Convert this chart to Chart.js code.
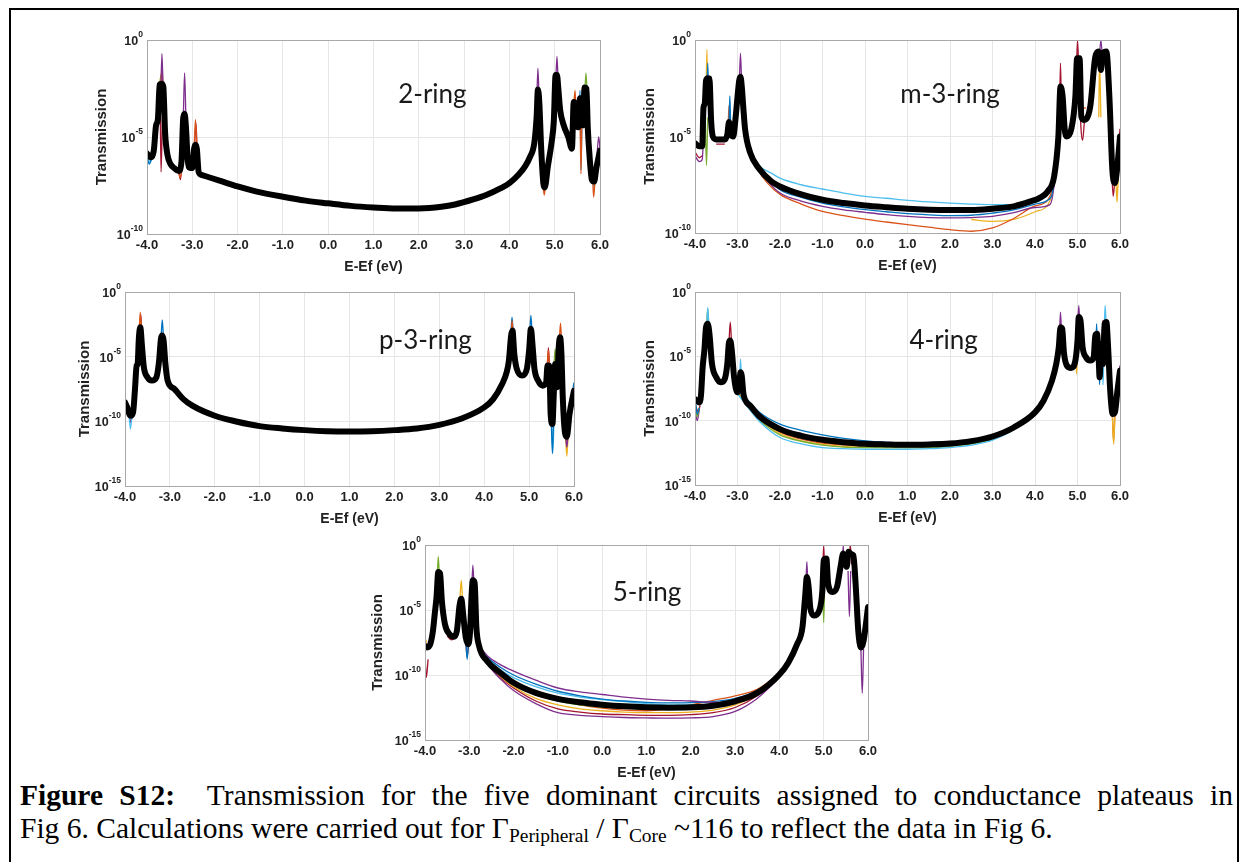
<!DOCTYPE html>
<html><head><meta charset="utf-8">
<script src="https://cdn.jsdelivr.net/npm/chart.js@4"></script>
<style>
body{margin:0;width:1248px;height:862px;background:#fff;position:relative;overflow:hidden}
canvas{position:absolute}
#frame{position:absolute;left:9px;top:8px;width:1226px;height:900px;border:2px solid #000}
.cap{position:absolute;left:20px;font-family:'Liberation Serif','Times New Roman',serif;font-size:29.5px;line-height:33px;color:#000;white-space:nowrap}
#l1{width:1213px;text-align:justify;text-align-last:justify;white-space:normal}
.cap sub{font-size:0.66em;vertical-align:-0.22em;line-height:0}
</style></head><body>
<div id="frame"></div>
<div class="cap" id="l1"><b>Figure S12:</b>&nbsp; Transmission for the five dominant circuits assigned to conductance plateaus in</div>
<div class="cap" id="l2">Fig 6. Calculations were carried out for Γ<sub>Peripheral</sub> / Γ<sub>Core</sub> ~116 to reflect the data in Fig 6.</div>
<script>
// ---------- tick labels ----------
const X_TICKS = [-4,-3,-2,-1,0,1,2,3,4,5,6];
const X_TICK_LABELS = ['-4.0','-3.0','-2.0','-1.0','0.0','1.0','2.0','3.0','4.0','5.0','6.0'];
const Y_TICKS_10 = [0,-5,-10];
const Y_TICKS_15 = [0,-5,-10,-15];
const PANEL_LABELS = ['2-ring','m-3-ring','p-3-ring','4-ring','5-ring'];

// ---------- 2-ring (values are log10 of transmission) ----------
const ring2X = [-4.0,-3.92,-3.85,-3.8,-3.76,-3.72,-3.68,-3.64,-3.6,-3.55,-3.48,-3.4,-3.3,-3.24,-3.2,-3.17,-3.14,-3.1,-3.05,-3.0,-2.96,-2.93,-2.9,-2.86,-2.8,-2.6,-2.4,-2.0,-1.6,-1.0,-0.5,0.0,0.5,1.0,1.5,2.0,2.5,2.8,3.2,3.5,3.8,4.0,4.2,4.35,4.45,4.55,4.6,4.63,4.66,4.7,4.75,4.78,4.85,4.93,4.98,5.02,5.05,5.08,5.12,5.2,5.3,5.38,5.42,5.45,5.48,5.52,5.56,5.59,5.62,5.66,5.7,5.73,5.77,5.82,5.87,5.92,6.0];
const ring2Black = [-5.85,-6.05,-5.7,-4.4,-4.1,-2.3,-2.25,-2.4,-4.8,-5.9,-6.4,-6.6,-6.75,-6.3,-4.0,-3.8,-4.5,-6.2,-6.6,-6.6,-5.6,-5.4,-5.6,-6.8,-6.95,-7.1,-7.25,-7.55,-7.8,-8.08,-8.28,-8.42,-8.55,-8.63,-8.68,-8.68,-8.6,-8.48,-8.22,-7.98,-7.65,-7.38,-6.95,-6.5,-6.05,-5.3,-4.0,-2.55,-3.2,-5.5,-7.4,-7.6,-6.5,-5.3,-4.2,-1.8,-1.8,-2.5,-3.6,-4.4,-5.0,-5.6,-3.2,-3.3,-4.4,-4.5,-3.0,-3.1,-4.4,-2.45,-2.5,-4.5,-6.0,-7.2,-7.3,-6.6,-5.7];
const ring2Purple = [[-3.7,-3.2],[-3.67,-0.7],[-3.64,-3.0],null,[-3.2,-4.2],[-3.17,-1.7],[-3.14,-4.2],null,[4.6,-3.5],[4.63,-1.45],[4.66,-3.5],null,[5.02,-2.5],[5.05,-0.85],[5.08,-2.5],null,[5.92,-6.5],[5.97,-5.0],[6.0,-5.6]];
const ring2Orange = [[-3.7,-3.0],[-3.67,-1.3],[-3.64,-3.0],null,[-3.3,-6.75],[-3.27,-7.1],[-3.22,-6.6],null,[-2.96,-5.6],[-2.93,-4.1],[-2.9,-5.6],null,[4.74,-7.4],[4.77,-8.0],[4.8,-7.4],null,[5.42,-3.5],[5.45,-2.6],[5.48,-4.4],null,[5.56,-4.0],[5.58,-6.9],[5.6,-4.0],null,[5.84,-7.2],[5.86,-8.1],[5.89,-7.2]];
const ring2Blue = [[-4.0,-6.0],[-3.95,-6.4],[-3.88,-6.0],null,[-3.76,-4.0],[-3.74,-3.0],[-3.72,-4.0],null,[5.53,-4.3],[5.56,-2.6],[5.58,-6.7],[5.6,-4.2],null,[5.76,-6.0],[5.78,-6.9],[5.8,-6.8]];
const ring2Yellow = [[-3.74,-3.5],[-3.71,-2.0],[-3.68,-3.0],null,[5.42,-4.0],[5.44,-2.7],[5.46,-4.0],null,[5.75,-5.5],[5.77,-6.5],[5.79,-6.8]];
const ring2Green = [[-3.73,-3.5],[-3.7,-1.8],[-3.67,-3.0],null,[5.66,-3.0],[5.69,-1.7],[5.72,-3.0]];
const ring2Cyan = [[-3.98,-6.0],[-3.94,-6.3],[-3.9,-6.0],null,[5.84,-7.2],[5.87,-7.6],[5.9,-7.1]];
const ring2Red = [[-3.71,-3.0],[-3.69,-6.8],[-3.66,-4.0],null,[-3.3,-6.8],[-3.26,-7.2],[-3.2,-5.0],null,[-2.95,-5.5],[-2.92,-4.3],[-2.89,-5.8]];

// ---------- m-3-ring ----------
const ring3mX = [-4.0,-3.9,-3.83,-3.8,-3.77,-3.74,-3.7,-3.66,-3.62,-3.58,-3.5,-3.3,-3.24,-3.2,-3.15,-3.1,-3.05,-3.0,-2.96,-2.93,-2.9,-2.86,-2.82,-2.7,-2.5,-2.2,-2.0,-1.5,-1.0,-0.5,0.0,0.5,1.0,1.5,2.0,2.5,3.0,3.5,3.9,4.1,4.3,4.45,4.55,4.6,4.65,4.7,4.75,4.85,4.95,4.99,5.05,5.09,5.15,5.3,5.42,5.5,5.55,5.6,5.68,5.75,5.82,5.88,5.93,6.0];
const ring3mBlack = [-5.35,-5.5,-5.5,-3.5,-3.3,-2.1,-1.98,-2.0,-4.2,-5.0,-5.15,-5.15,-4.9,-4.25,-4.9,-5.0,-4.15,-2.95,-2.1,-1.9,-2.4,-3.6,-4.65,-5.85,-6.64,-7.33,-7.59,-8.0,-8.28,-8.45,-8.57,-8.66,-8.74,-8.79,-8.81,-8.81,-8.74,-8.62,-8.36,-8.19,-7.84,-7.07,-5.0,-2.41,-2.93,-4.65,-5.0,-4.65,-2.93,-0.95,-0.95,-3.97,-4.14,-3.45,-0.86,-0.6,-1.55,-0.69,-0.6,-2.93,-6.72,-7.41,-6.72,-5.0];
const ring3mCyan = [[-2.7,-5.85],[-2.5,-6.5],[-2.2,-6.9],[-2.0,-7.16],[-1.5,-7.5],[-1.0,-7.72],[-0.5,-7.93],[0.0,-8.1],[0.5,-8.2],[1.0,-8.31],[1.5,-8.39],[2.0,-8.45],[2.5,-8.5],[3.0,-8.53],[3.5,-8.53],[3.9,-8.45],[4.2,-8.2],[4.4,-7.6],[4.5,-6.5]];
const ring3mBlue = [[-2.6,-6.3],[-2.3,-7.1],[-2.0,-7.76],[-1.5,-8.15],[-1.0,-8.45],[-0.5,-8.65],[0.0,-8.79],[0.5,-8.9],[1.0,-9.0],[1.5,-9.06],[2.0,-9.1],[2.5,-9.08],[3.0,-8.97],[3.5,-8.8],[4.0,-8.5],[4.3,-8.3],[4.4,-8.0],[4.5,-6.5],null,[-3.72,-3.0],[-3.7,-1.2],[-3.68,-3.0],null,[-3.2,-4.5],[-3.18,-2.9],[-3.16,-4.6]];
const ring3mPurple = [[-4.0,-6.0],[-3.9,-6.3],[-3.83,-6.2],[-3.8,-5.0],null,[-2.96,-2.5],[-2.93,-0.69],[-2.9,-2.5],null,[-2.6,-6.4],[-2.3,-7.3],[-2.0,-7.93],[-1.5,-8.35],[-1.0,-8.62],[-0.5,-8.8],[0.0,-8.93],[0.5,-9.05],[1.0,-9.14],[1.5,-9.2],[2.0,-9.22],[2.5,-9.2],[3.0,-9.14],[3.5,-8.95],[4.0,-8.68],[4.35,-8.53],[4.45,-7.5],[4.5,-6.0],null,[5.5,-1.5],[5.55,0],[5.6,-1.5]];
const ring3mOrange = [[-3.22,-4.5],[-3.2,-3.4],[-3.18,-4.6],null,[-2.6,-6.5],[-2.3,-7.4],[-2.0,-8.0],[-1.5,-8.5],[-1.0,-8.88],[-0.5,-9.1],[0.0,-9.28],[0.5,-9.43],[1.0,-9.57],[1.5,-9.7],[2.0,-9.83],[2.5,-9.91],[3.0,-9.74],[3.5,-9.25],[4.0,-8.6],[4.3,-8.3],[4.45,-7.2],[4.5,-6.0],null,[5.08,-3.8],[5.12,-3.6],[5.2,-3.5]];
const ring3mYellow = [[-3.74,-3.0],[-3.72,-0.5],[-3.7,-3.0],null,[2.5,-9.3],[3.0,-9.4],[3.5,-9.3],[4.0,-8.9],[4.3,-8.55],[4.4,-8.0],[4.5,-6.5],null,[5.5,-4.0],[5.52,-1.0],[5.55,-4.0],null,[5.9,-7.0],[5.93,-8.4],[5.96,-7.0]];
const ring3mGreen = [[-3.76,-4.0],[-3.73,-6.5],[-3.7,-4.0]];
const ring3mRed = [[-4.0,-5.8],[-3.9,-6.1],[-3.83,-6.0],null,[-3.5,-5.4],[-3.3,-5.4],null,[4.58,-3.5],[4.6,-1.2],[4.62,-3.5],null,[4.97,-2.0],[5.0,0],[5.03,-1.5],[5.08,-4.5],[5.12,-5.2],[5.16,-4.3],null,[5.8,-6.5],[5.84,-8.1],[5.88,-7.2],null,[5.97,-5.5],[6.0,-4.6]];

// ---------- p-3-ring ----------
const ring3pX = [-4.0,-3.95,-3.88,-3.82,-3.78,-3.74,-3.72,-3.69,-3.66,-3.62,-3.58,-3.5,-3.4,-3.3,-3.24,-3.2,-3.17,-3.14,-3.1,-3.05,-2.9,-2.7,-2.5,-2.0,-1.5,-1.0,-0.5,0.0,0.5,1.0,1.5,2.0,2.5,3.0,3.5,4.0,4.2,4.4,4.5,4.55,4.6,4.63,4.67,4.72,4.85,4.95,5.0,5.04,5.08,5.12,5.2,5.3,5.38,5.41,5.45,5.48,5.52,5.55,5.58,5.62,5.66,5.69,5.72,5.75,5.8,5.84,5.9,6.0];
const ring3pBlack = [-8.53,-8.92,-9.57,-9.31,-7.63,-5.69,-5.6,-3.49,-2.72,-4.27,-5.82,-6.59,-6.85,-6.59,-5.3,-3.62,-3.36,-3.75,-5.56,-6.85,-7.5,-8.28,-8.79,-9.57,-10.03,-10.37,-10.55,-10.68,-10.76,-10.78,-10.76,-10.68,-10.55,-10.27,-9.78,-8.92,-8.28,-7.11,-6.21,-5.3,-3.36,-2.97,-4.78,-5.87,-6.46,-5.95,-4.53,-2.84,-4.27,-5.95,-6.85,-7.24,-6.98,-5.69,-5.7,-9.44,-10.2,-7.89,-5.56,-7.37,-4.27,-3.49,-4.78,-8.15,-10.9,-11.2,-9.44,-7.63];
const ring3pOrange = [[-3.69,-3.5],[-3.66,-1.55],[-3.63,-3.5],null,[4.6,-3.5],[4.62,-2.2],[4.65,-3.5],null,[5.4,-5.8],[5.43,-4.5],[5.46,-5.8],null,[5.67,-4.0],[5.7,-2.4],[5.73,-4.5]];
const ring3pBlue = [[-3.2,-3.8],[-3.17,-2.15],[-3.14,-3.8],null,[4.59,-3.5],[4.62,-1.94],[4.65,-3.5],null,[5.01,-3.5],[5.04,-1.81],[5.07,-3.5],null,[5.49,-9.5],[5.52,-12.5],[5.55,-9.0],null,[5.95,-8.0],[6.0,-7.0]];
const ring3pCyan = [[-3.92,-9.0],[-3.88,-10.6],[-3.84,-9.4],null,[5.5,-9.6],[5.53,-12.4],[5.56,-9.0]];
const ring3pPurple = [[-3.92,-9.0],[-3.87,-10.1],[-3.83,-9.3],null,[5.81,-11.0],[5.84,-12.0],[5.87,-11.0]];
const ring3pYellow = [[-3.69,-3.5],[-3.66,-2.0],[-3.63,-3.5],null,[5.81,-11.0],[5.84,-12.7],[5.87,-11.0]];
const ring3pGreen = [[5.55,-6.0],[5.58,-4.4],[5.61,-6.0]];
const ring3pRed = [[-3.68,-3.5],[-3.65,-1.7],[-3.62,-3.5],null,[5.41,-5.6],[5.43,-4.3],[5.45,-5.6],null,[5.79,-10.6],[5.83,-11.6],[5.86,-10.5]];

// ---------- 4-ring ----------
const ring4X = [-4.0,-3.95,-3.9,-3.86,-3.82,-3.78,-3.74,-3.7,-3.66,-3.6,-3.5,-3.4,-3.3,-3.24,-3.2,-3.17,-3.13,-3.08,-3.0,-2.96,-2.93,-2.9,-2.86,-2.7,-2.5,-2.0,-1.5,-1.0,-0.5,0.0,0.5,1.0,1.5,2.0,2.5,3.0,3.5,4.0,4.2,4.4,4.5,4.56,4.6,4.64,4.68,4.75,4.85,4.95,5.0,5.03,5.07,5.12,5.2,5.3,5.38,5.42,5.46,5.5,5.52,5.56,5.6,5.64,5.68,5.72,5.77,5.83,5.88,5.94,6.0];
const ring4Black = [-8.32,-8.45,-8.58,-8.06,-5.85,-4.55,-2.73,-2.47,-3.25,-5.59,-6.63,-7.02,-6.76,-5.59,-3.9,-3.77,-4.68,-6.63,-7.8,-7.4,-6.24,-6.5,-7.93,-8.84,-9.62,-10.66,-11.18,-11.49,-11.67,-11.8,-11.85,-11.88,-11.85,-11.78,-11.59,-11.23,-10.53,-9.36,-8.45,-6.89,-5.59,-4.29,-2.73,-2.86,-4.68,-5.72,-5.9,-5.33,-3.77,-1.95,-2.2,-4.29,-5.07,-5.33,-5.07,-3.38,-3.25,-5.33,-6.63,-4.03,-5.59,-2.47,-2.34,-4.29,-7.67,-9.49,-9.36,-7.67,-6.11];
const ring4Blue = [[-3.0,-7.6],[-2.7,-8.6],[-2.5,-9.3],[-2.0,-10.27],[-1.5,-10.75],[-1.0,-11.1],[-0.5,-11.38],[0.0,-11.57],[0.5,-11.68],[1.0,-11.75],[1.5,-11.76],[2.0,-11.7],[2.5,-11.52],[3.0,-11.2],[3.5,-10.53],null,[-4.0,-8.0],[-3.95,-9.5],[-3.9,-9.0],null,[5.43,-4.5],[5.45,-2.47],[5.47,-4.5],null,[5.5,-5.3],[5.52,-7.2],[5.54,-5.3]];
const ring4Cyan = [[-3.0,-7.9],[-2.7,-9.2],[-2.5,-10.0],[-2.0,-11.31],[-1.5,-11.8],[-1.0,-12.09],[-0.5,-12.18],[0.0,-12.22],[0.5,-12.23],[1.0,-12.22],[1.5,-12.18],[2.0,-12.09],[2.5,-11.9],[3.0,-11.52],[3.5,-10.7],[4.0,-9.4],null,[-3.73,-3.0],[-3.7,-1.2],[-3.67,-3.0],null,[-2.95,-7.0],[-2.93,-5.2],[-2.91,-6.5],null,[5.62,-4.0],[5.65,-1.04],[5.68,-3.0],null,[5.58,-4.5],[5.6,-7.2],[5.62,-5.0]];
const ring4Green = [[-3.0,-7.85],[-2.5,-9.9],[-2.0,-11.1],[-1.5,-11.6],[-1.0,-11.9],[-0.5,-12.05],[0.0,-12.1],[1.0,-12.12],[2.0,-12.0],[3.0,-11.45],[3.5,-10.65],null,[-3.73,-3.0],[-3.7,-1.3],[-3.67,-3.0],null,[-4.0,-8.5],[-3.95,-9.7],[-3.9,-9.0]];
const ring4Yellow = [[-3.0,-7.8],[-2.5,-9.8],[-2.0,-11.0],[-1.0,-11.85],[0.0,-12.05],[1.0,-12.05],[2.0,-11.95],[3.0,-11.4],[3.5,-10.6],null,[4.96,-5.2],[4.98,-6.37],[5.0,-4.0],null,[5.82,-9.5],[5.85,-11.83],[5.88,-9.5]];
const ring4Orange = [[-3.0,-7.8],[-2.5,-9.75],[-2.0,-10.9],[-1.0,-11.75],[0.0,-11.95],[1.0,-11.98],[2.0,-11.88],[3.0,-11.35],[3.5,-10.6],null,[5.82,-9.5],[5.85,-11.6],[5.88,-9.5]];
const ring4Red = [[-3.0,-7.85],[-2.5,-9.7],[-2.0,-10.8],[-1.0,-11.65],[0.0,-11.9],[1.0,-11.95],[2.0,-11.85],[3.0,-11.3],[3.5,-10.6],null,[-3.2,-3.9],[-3.17,-2.34],[-3.14,-4.0],null,[5.57,-4.0],[5.6,-2.2],[5.63,-4.0],null,[-4.0,-8.7],[-3.92,-9.3],[-3.88,-8.8]];
const ring4Purple = [[-4.0,-9.0],[-3.95,-10.0],[-3.9,-9.2],null,[4.58,-3.0],[4.6,-1.56],[4.62,-3.0],null,[5.0,-3.0],[5.03,-1.04],[5.06,-3.0],null,[5.96,-7.0],[6.0,-5.7]];

// ---------- 5-ring ----------
const ring5X = [-4.0,-3.95,-3.88,-3.82,-3.78,-3.74,-3.7,-3.66,-3.62,-3.55,-3.45,-3.35,-3.28,-3.22,-3.18,-3.14,-3.08,-3.02,-2.98,-2.95,-2.92,-2.88,-2.84,-2.78,-2.6,-2.3,-2.0,-1.5,-1.0,-0.5,0.0,0.5,1.0,1.5,2.0,2.5,3.0,3.5,4.0,4.2,4.4,4.52,4.58,4.62,4.66,4.7,4.78,4.9,4.97,5.0,5.06,5.1,5.2,5.3,5.38,5.44,5.48,5.52,5.56,5.62,5.67,5.72,5.78,5.84,5.9,6.0];
const ring5Black = [-7.76,-7.89,-7.63,-6.59,-5.3,-4.01,-2.07,-2.2,-4.27,-6.08,-6.85,-7.06,-6.59,-4.65,-4.14,-5.3,-7.11,-7.63,-6.5,-4.01,-2.72,-2.9,-6.34,-7.76,-8.92,-9.83,-10.6,-11.38,-11.84,-12.1,-12.28,-12.41,-12.49,-12.52,-12.49,-12.36,-12.02,-11.38,-9.96,-9.05,-7.63,-6.34,-4.01,-2.46,-3.23,-4.91,-5.43,-5.04,-3.49,-1.16,-1.03,-2.97,-3.62,-3.23,-1.68,-0.65,-1.0,-1.68,-0.52,-0.7,-0.78,-2.97,-6.59,-7.89,-7.37,-4.78];
const ring5Purple = [[-2.78,-7.7],[-2.6,-8.5],[-2.3,-9.2],[-2.0,-9.7],[-1.5,-10.4],[-1.0,-11.0],[-0.5,-11.3],[0.0,-11.5],[0.5,-11.7],[1.0,-11.85],[1.5,-11.95],[2.0,-12.0],[2.5,-12.1],[3.0,-12.05],[3.5,-11.4],[4.0,-10.0],null,[-2.95,-4.0],[-2.92,-1.55],[-2.89,-3.5],null,[4.6,-3.0],[4.62,-1.29],[4.64,-3.0],null,[5.42,-2.0],[5.44,0],[5.46,-1.5],null,[5.55,-2.0],[5.58,-5.5],[5.61,-2.0],null,[5.84,-8.0],[5.87,-11.4],[5.9,-8.0]];
const ring5PurpleLow = [[-2.78,-8.0],[-2.6,-9.1],[-2.3,-10.3],[-2.0,-11.2],[-1.5,-12.2],[-1.0,-12.9],[-0.5,-13.1],[0.0,-13.2],[0.5,-13.27],[1.0,-13.3],[1.5,-13.32],[2.0,-13.3],[2.5,-13.2],[3.0,-12.8],[3.5,-11.8],[4.0,-10.2]];
const ring5Blue = [[-2.78,-7.75],[-2.6,-8.6],[-2.3,-9.4],[-2.0,-10.0],[-1.5,-10.7],[-1.0,-11.25],[-0.5,-11.6],[0.0,-11.85],[0.5,-12.0],[1.0,-12.1],[1.5,-12.15],[2.0,-12.12],[2.5,-12.05],[3.0,-11.8],[3.5,-11.2],[4.0,-9.95],null,[-3.08,-7.2],[-3.05,-8.79],[-3.02,-7.6]];
const ring5Cyan = [[-2.78,-7.8],[-2.6,-8.7],[-2.3,-9.6],[-2.0,-10.2],[-1.5,-10.9],[-1.0,-11.4],[-0.5,-11.7],[0.0,-11.9],[0.5,-12.05],[1.0,-12.2],[1.5,-12.3],[2.0,-12.3],[2.5,-12.2],[3.0,-11.9],[3.5,-11.25],[4.0,-9.95]];
const ring5Green = [[-2.78,-7.85],[-2.6,-8.9],[-2.3,-9.9],[-2.0,-10.7],[-1.5,-11.5],[-1.0,-12.0],[-0.5,-12.3],[0.0,-12.45],[0.5,-12.55],[1.0,-12.6],[1.5,-12.6],[2.0,-12.55],[2.5,-12.4],[3.0,-12.0],[3.5,-11.3],[4.0,-10.0],null,[-3.73,-3.0],[-3.7,-0.9],[-3.67,-3.0],null,[4.98,-3.0],[5.0,-5.95],[5.02,-3.0]];
const ring5Yellow = [[-2.78,-7.9],[-2.6,-9.0],[-2.3,-10.1],[-2.0,-10.9],[-1.5,-11.8],[-1.0,-12.3],[-0.5,-12.6],[0.0,-12.75],[0.5,-12.85],[1.0,-12.9],[1.5,-12.9],[2.0,-12.85],[2.5,-12.7],[3.0,-12.3],[3.5,-11.5],[4.0,-10.05],null,[-3.21,-4.0],[-3.18,-2.72],[-3.15,-4.5],null,[-4.0,-7.2],[-3.96,-7.5]];
const ring5Orange = [[-2.78,-7.8],[-2.6,-8.8],[-2.3,-9.8],[-2.0,-10.5],[-1.5,-11.3],[-1.0,-11.9],[-0.5,-12.3],[0.0,-12.55],[0.5,-12.7],[1.0,-12.75],[1.5,-12.6],[2.0,-12.3],[2.5,-11.95],[3.0,-11.6],[3.5,-11.1],[4.0,-9.9]];
const ring5Red = [[-4.0,-8.5],[-3.97,-10.2],[-3.93,-8.8],null,[-3.5,-7.0],[-3.4,-7.3],[-3.3,-7.0],null,[-3.08,-7.3],[-3.05,-8.6],[-3.02,-7.8],null,[-2.78,-7.95],[-2.6,-9.05],[-2.3,-10.2],[-2.0,-11.0],[-1.5,-12.0],[-1.0,-12.6],[-0.5,-12.85],[0.0,-13.0],[0.5,-13.05],[1.0,-13.1],[1.5,-13.1],[2.0,-13.05],[2.5,-12.9],[3.0,-12.5],[3.5,-11.6],[4.0,-10.1],null,[4.98,-2.0],[5.0,0],[5.02,-2.0],null,[5.57,-1.5],[5.6,0],[5.63,-1.5]];

// ---------- styling ----------
const C = {blue:'#0072BD',orange:'#D95319',yellow:'#EDB120',purple:'#7E2F8E',green:'#77AC30',cyan:'#4DBEEE',red:'#A2142F'};
const FONT = "'Liberation Sans', Arial, sans-serif";

const decor = {
  id:'decor',
  afterDraw(chart, args, o){
    const {ctx, chartArea:a, scales:{x,y}} = chart;
    ctx.save();
    ctx.strokeStyle = '#a8a8a8'; ctx.lineWidth = 1;
    ctx.strokeRect(Math.round(a.left)+0.5, Math.round(a.top)+0.5, Math.round(a.right-a.left), Math.round(a.bottom-a.top));
    ctx.fillStyle = '#222';
    ctx.textBaseline = 'alphabetic'; ctx.textAlign = 'left';
    y.ticks.forEach(t => {
      const py = y.getPixelForValue(t.value);
      const exp = String(t.value);
      ctx.font = 'bold 8.5px ' + FONT;
      const ew = ctx.measureText(exp).width;
      ctx.font = 'bold 12.5px ' + FONT;
      const bw = ctx.measureText('10').width;
      const right = a.left - 4;
      ctx.fillText('10', right - ew - bw, py + 5);
      ctx.font = 'bold 8.5px ' + FONT;
      ctx.fillText(exp, right - ew, py - 3);
    });
    ctx.font = '26px Lato, "Open Sans", sans-serif';
    ctx.fillStyle = '#1a1a1a'; ctx.textAlign = 'center'; ctx.textBaseline = 'middle';
    ctx.fillText(o.label, x.getPixelForValue(o.lx), y.getPixelForValue(o.ly));
    ctx.restore();
  }
};

function pts(list){
  const out = []; let lx = -4;
  list.forEach(p => { if (p) { out.push({x:p[0], y:p[1]}); lx = p[0]; } else out.push({x:lx, y:null}); });
  return out;
}

function panel(p){
  const YW = 64, TP = 12, RP = 20, XH = 44;
  const w = p.R - p.L + YW + RP, h = p.B - p.T + TP + XH;
  const cv = document.createElement('canvas');
  cv.width = w; cv.height = h;
  Object.assign(cv.style, {left:(p.L - YW)+'px', top:(p.T - TP)+'px', width:w+'px', height:h+'px'});
  document.body.appendChild(cv);
  const datasets = [{
    data: p.xs.map((x,i) => ({x, y:p.black[i]})),
    borderColor:'#000', borderWidth:6, pointRadius:0, cubicInterpolationMode:'monotone',
    borderJoinStyle:'round', borderCapStyle:'round'
  }];
  p.colored.forEach(([list, col]) => datasets.push({
    data: pts(list), borderColor: col, borderWidth: 1.3, pointRadius: 0, spanGaps: false,
    cubicInterpolationMode:'monotone'
  }));
  new Chart(cv, {
    type:'line',
    data:{datasets},
    options:{
      responsive:false, animation:false, events:[],
      layout:{padding:{left:0, top:TP, right:RP, bottom:0}},
      plugins:{legend:{display:false}, tooltip:{enabled:false},
        decor:{label:p.label, lx:p.lx, ly:p.ly}},
      scales:{
        x:{type:'linear', min:-4, max:6,
          afterFit(s){ s.height = XH; },
          afterBuildTicks(s){ s.ticks = X_TICKS.map(v => ({value:v})); },
          ticks:{callback:(v) => X_TICK_LABELS[X_TICKS.indexOf(v)], autoSkip:false, maxRotation:0,
            font:{family:FONT, weight:'bold', size:13}, color:'#222', padding:4},
          grid:{color:'#e6e6e6', drawTicks:false}, border:{display:false},
          title:{display:true, text:'E-Ef (eV)', color:'#222', font:{family:FONT, weight:'bold', size:14}, padding:{top:0, bottom:2}}
        },
        y:{type:'linear', min:p.ymin, max:0,
          afterFit(s){ s.width = YW; },
          afterBuildTicks(s){ s.ticks = p.yt.map(v => ({value:v})); },
          ticks:{display:false},
          grid:{color:'#e6e6e6', drawTicks:false}, border:{display:false},
          title:{display:true, text:'Transmission', color:'#222', font:{family:FONT, weight:'bold', size:15}, padding:{top:p.tp, bottom:0}}
        }
      }
    },
    plugins:[decor]
  });
}

panel({L:147, T:40, R:600, B:234, ymin:-10, yt:Y_TICKS_10, tp:10, label:PANEL_LABELS[0], lx:2.3, ly:-2.84,
  xs:ring2X, black:ring2Black,
  colored:[[ring2Purple,C.purple],[ring2Orange,C.orange],[ring2Blue,C.blue],[ring2Yellow,C.yellow],[ring2Green,C.green],[ring2Cyan,C.cyan],[ring2Red,C.red]]});
panel({L:695, T:40, R:1120, B:233, ymin:-10, yt:Y_TICKS_10, tp:10, label:PANEL_LABELS[1], lx:2.0, ly:-2.81,
  xs:ring3mX, black:ring3mBlack,
  colored:[[ring3mCyan,C.cyan],[ring3mBlue,C.blue],[ring3mPurple,C.purple],[ring3mOrange,C.orange],[ring3mYellow,C.yellow],[ring3mGreen,C.green],[ring3mRed,C.red]]});
panel({L:125, T:292, R:574, B:486, ymin:-15, yt:Y_TICKS_15, tp:15, label:PANEL_LABELS[2], lx:2.69, ly:-3.75,
  xs:ring3pX, black:ring3pBlack,
  colored:[[ring3pOrange,C.orange],[ring3pBlue,C.blue],[ring3pCyan,C.cyan],[ring3pPurple,C.purple],[ring3pYellow,C.yellow],[ring3pGreen,C.green],[ring3pRed,C.red]]});
panel({L:695, T:292, R:1120, B:485, ymin:-15, yt:Y_TICKS_15, tp:10, label:PANEL_LABELS[3], lx:1.85, ly:-3.77,
  xs:ring4X, black:ring4Black,
  colored:[[ring4Blue,C.blue],[ring4Cyan,C.cyan],[ring4Green,C.green],[ring4Yellow,C.yellow],[ring4Orange,C.orange],[ring4Red,C.red],[ring4Purple,C.purple]]});
panel({L:425, T:545, R:868, B:740, ymin:-15, yt:Y_TICKS_15, tp:8, label:PANEL_LABELS[4], lx:1.01, ly:-3.67,
  xs:ring5X, black:ring5Black,
  colored:[[ring5Purple,C.purple],[ring5PurpleLow,C.purple],[ring5Blue,C.blue],[ring5Cyan,C.cyan],[ring5Green,C.green],[ring5Yellow,C.yellow],[ring5Orange,C.orange],[ring5Red,C.red]]});
</script>
<script>
document.getElementById('l1').style.top = '779px';
document.getElementById('l2').style.top = '812px';
</script>
</body></html>
